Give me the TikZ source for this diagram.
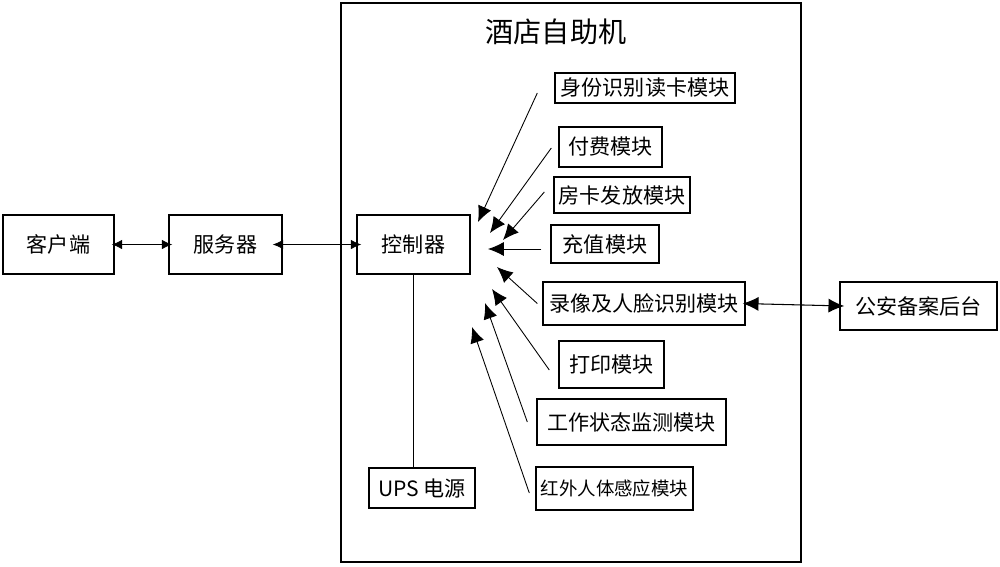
\documentclass[tikz,border=0pt]{standalone}
\usepackage{fontspec}
\setmainfont{Noto Sans CJK SC}
\usetikzlibrary{arrows.meta}
\begin{document}
\begin{tikzpicture}[x=0.02cm,y=-0.02cm]
        \useasboundingbox (0,0) rectangle (1000,566);
        \draw[line width=0.6pt] (341,3) rectangle (801,562);
        \node (title) at (556,32) {\fontsize{16pt}{18pt}\selectfont 酒店自助机};
        \scoped{
                \tikzstyle{every node}=[draw, line width=0.8pt, inner sep=1pt, font=\fontsize{12pt}{14pt}\selectfont];
                \node (client) [minimum width=2.22cm, minimum height=1.18cm] at (58.5,244.5) {客户端};
                \node (server) [minimum width=2.26cm, minimum height=1.18cm] at (225.5,244.5) {服务器};
                \node (ctrl) [minimum width=2.26cm, minimum height=1.18cm] at (413.5,244.5) {控制器};
                \node (ups) [minimum width=2.12cm, minimum height=0.8cm] at (422,488) {UPS 电源};
                \node (idcard) [minimum width=3.6cm, minimum height=0.6cm] at (645,88) {身份识别读卡模块};
                \node (pay) [minimum width=2.06cm, minimum height=0.8cm] at (610.5,147) {付费模块};
                \node (roomcard) [minimum width=2.72cm, minimum height=0.72cm] at (622,195) {房卡发放模块};
                \node (recharge) [minimum width=2.16cm, minimum height=0.76cm] at (605,244) {充值模块};
                \node (video) [minimum width=4.04cm, minimum height=0.86cm] at (644,303.5) {录像及人脸识别模块};
                \node (print) [minimum width=2.1cm, minimum height=0.94cm] at (611.5,364.5) {打印模块};
                \node (status) [minimum width=3.78cm, minimum height=0.92cm] at (631.5,422) {工作状态监测模块};
                \node (infrared) [minimum width=3.14cm, minimum height=0.86cm, font=\fontsize{10.5pt}{12pt}\selectfont] at (614.5,488.5) {红外人体感应模块};
                \node (police) [minimum width=3.14cm, minimum height=0.96cm] at (918.5,306) {公安备案后台};
            };
            % tips near the controller
            \coordinate (t1) at (478,222);
            \coordinate (t2) at (490,233);
            \coordinate (t3) at (503,240);
            \coordinate (t4) at (488,249);
            \coordinate (t5) at (497,267);
            \coordinate (t6) at (492,289);
            \coordinate (t7) at (485,303);
            \coordinate (t8) at (472,327);

            \draw[{Latex[length=6pt,width=5.5pt]}-{Latex[length=6pt,width=5.5pt]}, line width=0.5pt] ([xshift=-0.06cm]client.east) -- ([xshift=0.08cm]server.west);
            \draw[{Latex[length=6pt,width=5.5pt]}-{Latex[length=6pt,width=5.5pt]}, line width=0.5pt] ([xshift=-0.2cm]server.east) -- ([xshift=0.1cm]ctrl.west);
            \draw[line width=0.6pt] (ctrl.south) -- (ctrl.south |- ups.north);
            \draw[{Latex[length=9pt,width=8pt]}-{Latex[length=9pt,width=8pt]}, line width=0.6pt] ([xshift=-0.06cm]video.east) -- ([xshift=0.1cm]police.west);

            \scoped{
                \tikzstyle{every path}=[line width=0.5pt, -{Latex[length=9pt,width=8pt]}];
                \draw ([shift={(-17,5)}]idcard.west) -- (t1);
                \draw ([shift={(-7,1)}]pay.west) -- (t2);
                \draw ([shift={(-9,-3)}]roomcard.west) -- (t3);
                \draw ([shift={(-9,5)}]recharge.west) -- (t4);
                \draw ([shift={(-5,0)}]video.west) -- (t5);
                \draw ([shift={(-9,5.5)}]print.west) -- (t6);
                \draw ([shift={(-9,0)}]status.west) -- (t7);
                \draw ([shift={(-6,4.5)}]infrared.west) -- (t8);
            };
    \end{tikzpicture}
\end{document}
